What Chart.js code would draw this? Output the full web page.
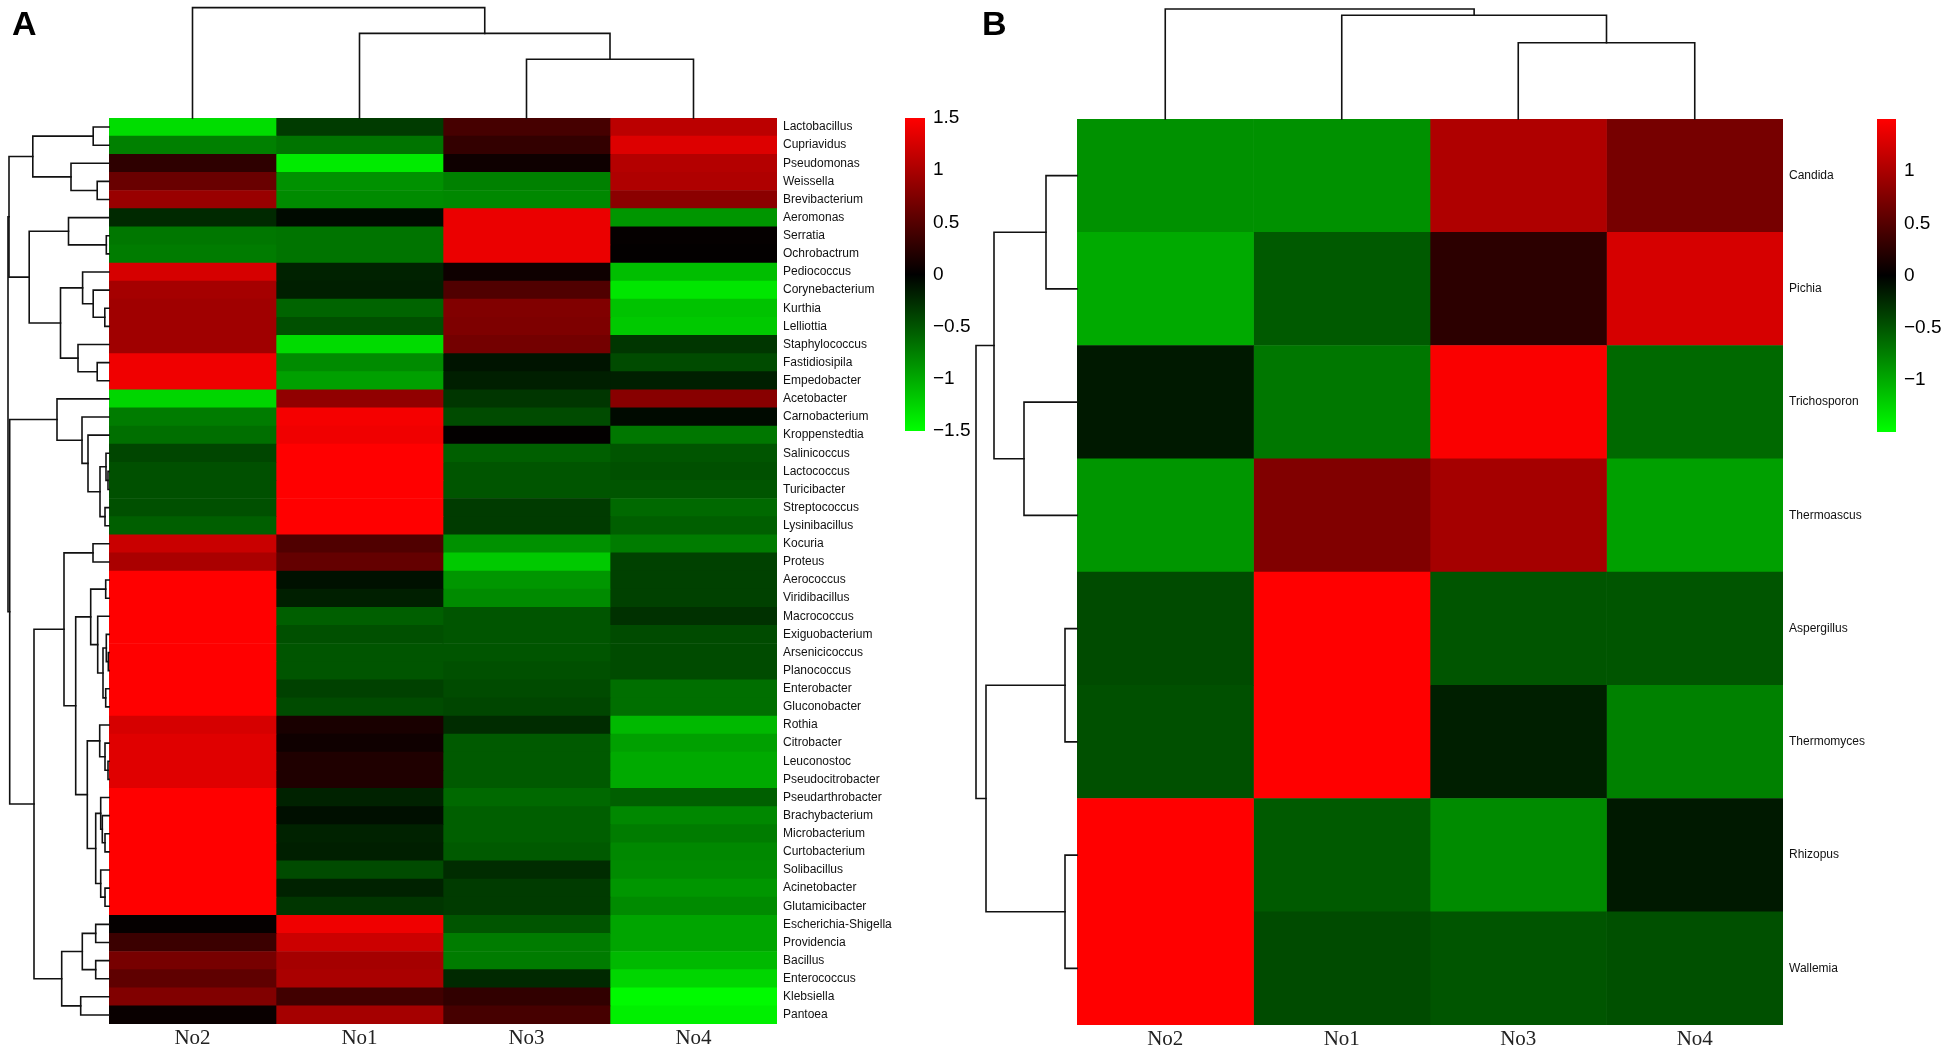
<!DOCTYPE html>
<html>
<head>
<meta charset="utf-8">
<script src="https://cdn.jsdelivr.net/npm/chart.js@4.4.1/dist/chart.umd.min.js"></script>
<style>
  html, body { margin: 0; padding: 0; background: #fff; overflow: hidden; }
  canvas { position: absolute; top: 0; }
  #heatA { left: 0; }
  #heatB { left: 970px; }
</style>
</head>
<body>
<canvas id="heatA" width="970" height="1054"></canvas>
<canvas id="heatB" width="972" height="1054"></canvas>
<script>
// ---- Panel A: bacterial genera ----
const colsA = ["No2", "No1", "No3", "No4"];
const rowsA = [
  "Lactobacillus", "Cupriavidus", "Pseudomonas", "Weissella", "Brevibacterium",
  "Aeromonas", "Serratia", "Ochrobactrum", "Pediococcus", "Corynebacterium",
  "Kurthia", "Lelliottia", "Staphylococcus", "Fastidiosipila", "Empedobacter",
  "Acetobacter", "Carnobacterium", "Kroppenstedtia", "Salinicoccus", "Lactococcus",
  "Turicibacter", "Streptococcus", "Lysinibacillus", "Kocuria", "Proteus",
  "Aerococcus", "Viridibacillus", "Macrococcus", "Exiguobacterium", "Arsenicicoccus",
  "Planococcus", "Enterobacter", "Gluconobacter", "Rothia", "Citrobacter",
  "Leuconostoc", "Pseudocitrobacter", "Pseudarthrobacter", "Brachybacterium", "Microbacterium",
  "Curtobacterium", "Solibacillus", "Acinetobacter", "Glutamicibacter", "Escherichia-Shigella",
  "Providencia", "Bacillus", "Enterococcus", "Klebsiella", "Pantoea"
];
const aNo2 = [-1.3, -0.75, 0.27, 0.62, 0.9, -0.24, -0.7, -0.73, 1.26, 0.97,
  0.94, 0.94, 0.94, 1.41, 1.41, -1.26, -0.73, -0.65, -0.41, -0.47,
  -0.47, -0.47, -0.56, 1.18, 1.0, 1.5, 1.5, 1.5, 1.5, 1.5,
  1.5, 1.5, 1.5, 1.26, 1.32, 1.32, 1.32, 1.5, 1.5, 1.5,
  1.5, 1.5, 1.5, 1.5, 0.03, 0.35, 0.7, 0.56, 0.76, 0.05];
const aNo1 = [-0.35, -0.68, -1.38, -0.85, -0.82, -0.06, -0.68, -0.68, -0.2, -0.18,
  -0.59, -0.47, -1.29, -0.82, -0.94, 0.85, 1.44, 1.41, 1.5, 1.5,
  1.5, 1.5, 1.5, 0.47, 0.59, -0.1, -0.18, -0.56, -0.47, -0.5,
  -0.5, -0.38, -0.44, 0.15, 0.09, 0.18, 0.18, -0.2, -0.09, -0.2,
  -0.18, -0.44, -0.2, -0.32, 1.41, 1.2, 0.97, 1.0, 0.38, 0.97];
const aNo3 = [0.41, 0.3, 0.08, -0.76, -0.8, 1.38, 1.38, 1.38, 0.08, 0.47,
  0.76, 0.74, 0.68, -0.12, -0.18, -0.32, -0.44, 0.02, -0.56, -0.5,
  -0.5, -0.35, -0.35, -0.85, -1.18, -0.88, -0.82, -0.5, -0.5, -0.5,
  -0.47, -0.44, -0.41, -0.26, -0.53, -0.53, -0.53, -0.62, -0.56, -0.56,
  -0.53, -0.26, -0.35, -0.35, -0.5, -0.73, -0.73, -0.24, 0.29, 0.41];
const aNo4 = [1.1, 1.3, 1.06, 1.03, 0.82, -0.88, 0.03, 0.02, -1.12, -1.35,
  -1.15, -1.18, -0.32, -0.44, -0.18, 0.8, -0.06, -0.7, -0.5, -0.47,
  -0.5, -0.62, -0.56, -0.73, -0.38, -0.38, -0.38, -0.29, -0.44, -0.44,
  -0.44, -0.65, -0.65, -1.09, -0.94, -1.0, -1.0, -0.56, -0.8, -0.73,
  -0.8, -0.82, -0.88, -0.82, -0.97, -0.97, -1.09, -1.26, -1.47, -1.41];

// hclust-style merges: negative = leaf (1-based), positive = earlier merge; third value = height
const rowMergeA = [
  [-1, -2, 15.8], [-4, -5, 11.8], [-3, 2, 38], [1, 3, 76.2], [-7, -8, 2.7],
  [-6, 5, 40.5], [-11, -12, 4.2], [-10, 7, 15.8], [-9, 8, 26.4], [-14, -15, 11.8],
  [-13, 10, 31], [9, 11, 48.5], [6, 12, 79.8], [4, 13, 100], [-20, -21, 1],
  [-19, 15, 3], [-22, -23, 4], [16, 17, 9], [-18, 18, 21], [-17, 19, 27],
  [-16, 20, 52], [-24, -25, 16], [-26, -27, 3.3], [-30, -31, 0.7], [-29, 24, 2.7],
  [-32, -33, 3.3], [25, 26, 6], [-28, 27, 11.3], [23, 28, 18.3], [-36, -37, 1],
  [-35, 30, 4], [-34, 31, 9.3], [-40, -41, 4], [-39, 33, 6.7], [-38, 34, 8.3],
  [-43, -44, 4], [-42, 36, 8.3], [35, 37, 13.3], [32, 38, 21.7], [29, 39, 33.3],
  [22, 40, 45], [-45, -46, 13.3], [-47, -48, 13.3], [42, 43, 26.7], [-49, -50, 28.3],
  [44, 45, 47.3], [41, 46, 75], [21, 47, 99.3], [14, 48, 101]
];
const colMergeA = [[-3, -4, 58.7], [-2, 1, 84.6], [-1, 2, 110.4]];
const scaleTicksA = [1.5, 1, 0.5, 0, -0.5, -1, -1.5];

// ---- Panel B: fungal genera ----
const colsB = ["No2", "No1", "No3", "No4"];
const rowsB = ["Candida", "Pichia", "Trichosporon", "Thermoascus", "Aspergillus", "Thermomyces", "Rhizopus", "Wallemia"];
const bNo2 = [-0.85, -1.0, -0.15, -0.88, -0.44, -0.47, 1.5, 1.5];
const bNo1 = [-0.85, -0.53, -0.7, 0.76, 1.5, 1.5, -0.53, -0.44];
const bNo3 = [1.03, 0.26, 1.47, 0.97, -0.5, -0.18, -0.82, -0.5];
const bNo4 = [0.7, 1.26, -0.62, -0.94, -0.5, -0.76, -0.15, -0.47];
const rowMergeB = [[-1, -2, 31], [-3, -4, 53], [1, 2, 83], [-5, -6, 12], [-7, -8, 12], [4, 5, 91], [3, 6, 101]];
const colMergeB = [[-3, -4, 76.3], [-2, 1, 103.7], [-1, 2, 110]];
const scaleTicksB = [1, 0.5, 0, -0.5, -1];

const LIMIT = 1.5;
const MINUS = "\u2212";

function heatColor(v) {
  const t = Math.min(1, Math.abs(v) / LIMIT);
  const c = Math.round(255 * t);
  return v >= 0 ? `rgb(${c},0,0)` : `rgb(0,${c},0)`;
}

// draw one dendrogram; toXY maps (leaf-axis pixel, height) to canvas point
function drawDendro(ctx, merge, leafPixel, toXY) {
  const pos = [], hts = [];
  const node = ref => ref < 0 ? { p: leafPixel(-ref - 1), h: 0 } : { p: pos[ref - 1], h: hts[ref - 1] };
  merge.forEach(([a, b, h], k) => {
    const A = node(a), B = node(b);
    const pts = [toXY(A.p, A.h), toXY(A.p, h), toXY(B.p, h), toXY(B.p, B.h)];
    ctx.beginPath();
    ctx.moveTo(pts[0][0], pts[0][1]);
    pts.slice(1).forEach(q => ctx.lineTo(q[0], q[1]));
    ctx.stroke();
    pos[k] = (A.p + B.p) / 2;
    hts[k] = h;
  });
}

const heatDecor = {
  id: "heatDecor",
  afterDraw(chart, args, opts) {
    const { ctx, chartArea: area, scales } = chart;
    ctx.save();
    ctx.strokeStyle = "#111";
    ctx.lineWidth = 1.6;
    ctx.lineCap = "square";

    // row dendrogram to the left of the cells
    drawDendro(ctx, opts.rowMerge, i => scales.y.getPixelForValue(i),
      (p, h) => [area.left - h * opts.unit, p]);
    // column dendrogram above the cells
    drawDendro(ctx, opts.colMerge, i => scales.x.getPixelForValue(i + 0.5),
      (p, h) => [p, area.top - h * opts.unit]);

    // colour key
    const cb = opts.colorbar;
    const grad = ctx.createLinearGradient(0, cb.top, 0, cb.bottom);
    grad.addColorStop(0, "#ff0000");
    grad.addColorStop(0.5, "#000000");
    grad.addColorStop(1, "#00ff00");
    ctx.fillStyle = grad;
    ctx.fillRect(cb.x, cb.top, cb.width, cb.bottom - cb.top);
    ctx.fillStyle = "#000";
    ctx.font = "19px 'Liberation Sans', Arial, sans-serif";
    ctx.textAlign = "left";
    ctx.textBaseline = "middle";
    cb.ticks.forEach(v => {
      const y = cb.top + (LIMIT - v) / (2 * LIMIT) * (cb.bottom - cb.top);
      const txt = (v < 0 ? MINUS : "") + Math.abs(v);
      ctx.fillText(txt, cb.x + cb.width + 8, y);
    });

    // panel letter
    ctx.font = "bold 34px 'Liberation Sans', Arial, sans-serif";
    ctx.textBaseline = "alphabetic";
    ctx.fillText(opts.letter, 12, 35);
    ctx.restore();
  }
};

function heatmap(canvasId, rows, cols, series, cfg) {
  return new Chart(document.getElementById(canvasId), {
    type: "bar",
    data: {
      labels: rows,
      datasets: cols.map((c, j) => ({
        label: c,
        data: rows.map(() => 1),
        backgroundColor: series[j].map(heatColor),
        borderWidth: 0,
        barPercentage: 1,
        categoryPercentage: 1
      }))
    },
    options: {
      indexAxis: "y",
      responsive: false,
      animation: false,
      layout: { padding: { left: cfg.left, top: cfg.top, right: 0, bottom: 0 } },
      scales: {
        x: {
          type: "linear",
          stacked: true,
          min: 0,
          max: cols.length,
          afterBuildTicks: axis => { axis.ticks = cols.map((c, i) => ({ value: i + 0.5 })); },
          afterFit: scale => { scale.height = cfg.xAxisHeight; },
          grid: { display: false, drawTicks: false },
          border: { display: false },
          ticks: {
            callback: (v, i) => cols[i],
            maxRotation: 0,
            minRotation: 0,
            padding: 2,
            color: "#222",
            font: { family: "'Liberation Serif', 'Times New Roman', serif", size: 21 }
          }
        },
        y: {
          type: "category",
          position: "right",
          stacked: true,
          afterFit: scale => { scale.width = cfg.yAxisWidth; },
          grid: { display: false, drawTicks: false },
          border: { display: false },
          ticks: {
            autoSkip: false,
            padding: 6,
            color: "#111",
            font: { family: "'Liberation Sans', Arial, sans-serif", size: 12 }
          }
        }
      },
      plugins: {
        legend: { display: false },
        tooltip: { enabled: false },
        heatDecor: {
          rowMerge: cfg.rowMerge,
          colMerge: cfg.colMerge,
          unit: 1,
          letter: cfg.letter,
          colorbar: cfg.colorbar
        }
      }
    },
    plugins: [heatDecor]
  });
}

heatmap("heatA", rowsA, colsA, [aNo2, aNo1, aNo3, aNo4], {
  left: 109, top: 118, xAxisHeight: 30, yAxisWidth: 193,
  rowMerge: rowMergeA, colMerge: colMergeA, letter: "A",
  colorbar: { x: 905, width: 20, top: 118, bottom: 431, ticks: scaleTicksA }
});

heatmap("heatB", rowsB, colsB, [bNo2, bNo1, bNo3, bNo4], {
  left: 107, top: 119, xAxisHeight: 29, yAxisWidth: 159,
  rowMerge: rowMergeB, colMerge: colMergeB, letter: "B",
  colorbar: { x: 907, width: 19, top: 119, bottom: 432, ticks: scaleTicksB }
});
</script>
</body>
</html>
